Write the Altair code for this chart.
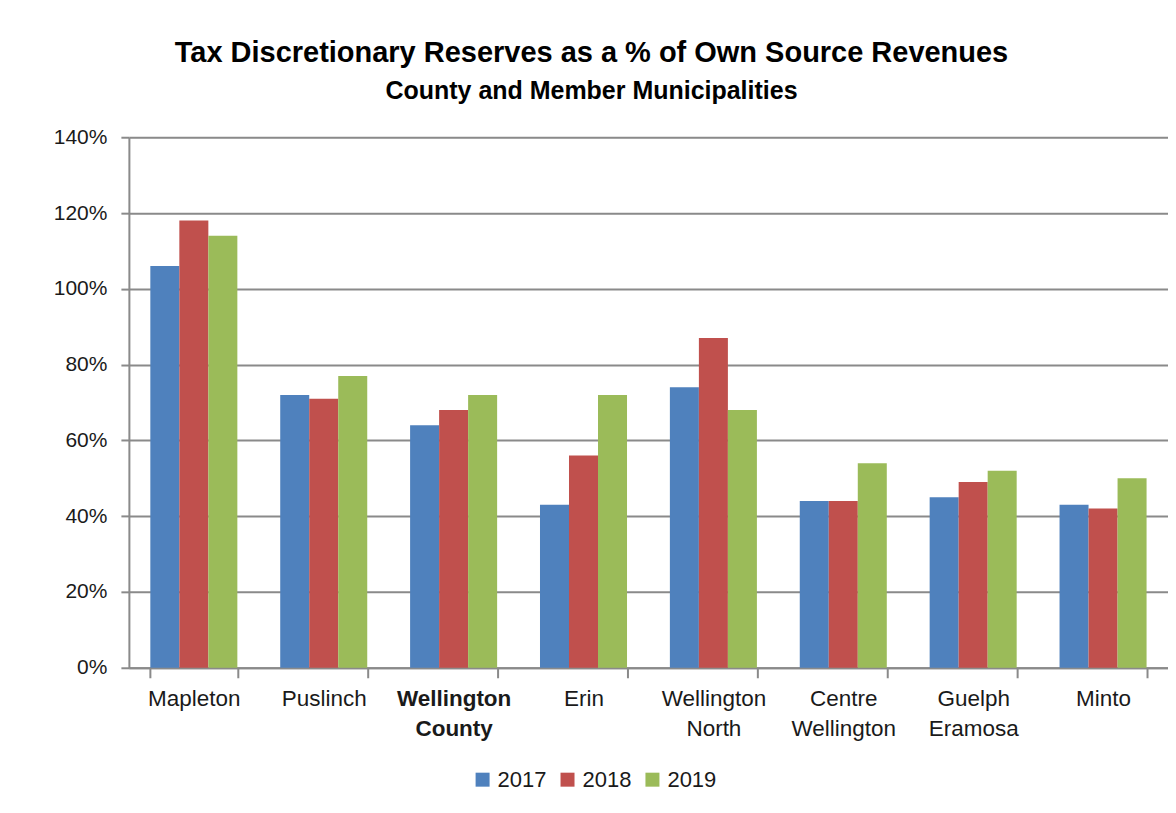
import altair as alt
import pandas as pd

categories = ["Mapleton", "Puslinch", "Wellington County", "Erin", "Wellington North",
              "Centre Wellington", "Guelph Eramosa", "Minto"]
years = ["2017", "2018", "2019"]
v2017 = [106, 72, 64, 43, 74, 44, 45, 43]
v2018 = [118, 71, 68, 56, 87, 44, 49, 42]
v2019 = [114, 77, 72, 72, 68, 54, 52, 50]
colors = ["#4F81BD", "#C0504D", "#9BBB59"]
y_ticks = [0, 20, 40, 60, 80, 100, 120, 140]

rows = []
for yr, vals in zip(years, [v2017, v2018, v2019]):
    for c, v in zip(categories, vals):
        rows.append({"Municipality": c, "Year": yr, "Value": v})
df = pd.DataFrame(rows)

FONT = "Liberation Sans, Arial, sans-serif"
GRID = "#8a8a8a"

chart = alt.Chart(df).mark_bar().encode(
    x=alt.X("Municipality:N", sort=categories,
            scale=alt.Scale(paddingInner=0.33, paddingOuter=0.165),
            axis=alt.Axis(title=None, labelAngle=0, tickBand="extent",
                          labelExpr="split(datum.label, ' ')",
                          labelLineHeight=30, labelFontSize=22.5, labelFont=FONT,
                          labelColor="#1a1a1a", labelPadding=10,
                          labelFontWeight=alt.condition("datum.value == 'Wellington County'",
                                                        alt.value("bold"), alt.value("normal")),
                          tickSize=10, tickColor=GRID, tickWidth=2,
                          domainColor=GRID, domainWidth=2, grid=False)),
    xOffset=alt.XOffset("Year:N", sort=years, scale=alt.Scale(paddingInner=0, paddingOuter=0)),
    y=alt.Y("Value:Q", scale=alt.Scale(domain=[0, 140], nice=False),
            axis=alt.Axis(title=None, values=y_ticks, labelExpr="datum.value + '%'",
                          labelFontSize=21, labelFont=FONT, labelColor="#1a1a1a",
                          labelPadding=14, tickSize=8, tickColor=GRID, tickWidth=2,
                          domainColor=GRID, domainWidth=2,
                          gridColor=GRID, gridWidth=2)),
    color=alt.Color("Year:N", sort=years,
                    scale=alt.Scale(domain=years, range=colors),
                    legend=alt.Legend(title=None, orient="none", legendX=343, legendY=632,
                                      direction="horizontal", symbolType="square",
                                      symbolSize=196, symbolStrokeWidth=0,
                                      labelFontSize=22, labelFont=FONT, labelColor="#1a1a1a",
                                      columnPadding=10, labelOffset=4, padding=0)),
).properties(
    width=1040,
    height=531,
    title=alt.TitleParams(
        text="Tax Discretionary Reserves as a % of Own Source Revenues",
        subtitle="County and Member Municipalities",
        font=FONT, fontSize=29, fontWeight="bold", color="#000000",
        subtitleFont=FONT, subtitleFontSize=25, subtitleFontWeight="bold",
        subtitleColor="#000000", subtitlePadding=11,
        anchor="middle", dx=-57, offset=22,
    ),
    autosize=alt.AutoSizeParams(type="none"),
    padding={"left": 121, "top": 129, "right": 0, "bottom": 130},
).configure_view(stroke=None).configure(background="white")

chart.save("out.html", embed_options={"renderer": "svg", "actions": False})
